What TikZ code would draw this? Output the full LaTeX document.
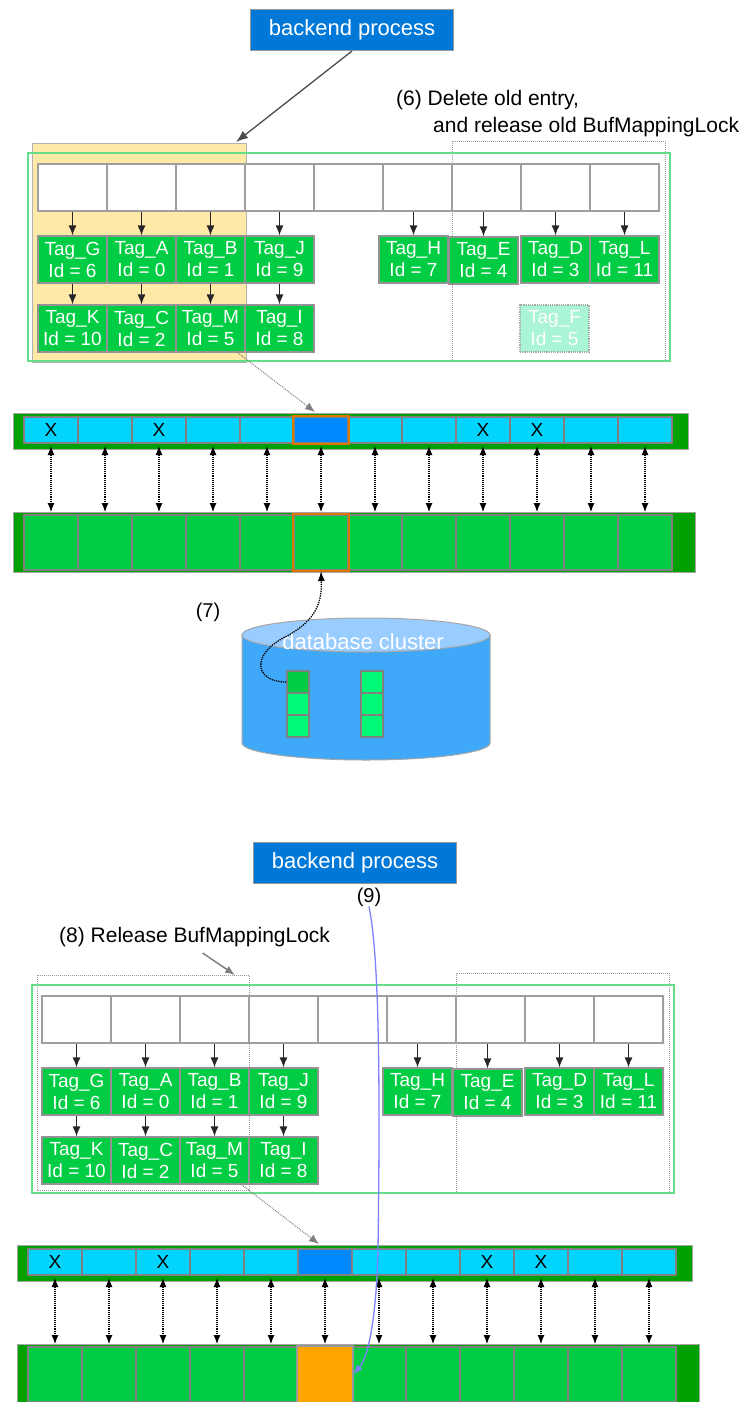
\documentclass[tikz,border=0pt]{standalone}
\usepackage{fontspec}
\setmainfont{Liberation Sans}
\usetikzlibrary{arrows.meta}

\definecolor{procblue}{RGB}{0,120,215}
\definecolor{taggreen}{RGB}{0,204,68}
\definecolor{framegreen}{RGB}{102,221,136}
\definecolor{lockyellow}{RGB}{255,233,166}
\definecolor{bardark}{RGB}{0,160,0}
\definecolor{cellcyan}{RGB}{0,212,255}
\definecolor{celldark}{RGB}{0,136,255}
\definecolor{hotorange}{RGB}{220,120,0}
\definecolor{orangefill}{RGB}{255,165,0}
\definecolor{dbbody}{RGB}{64,168,248}
\definecolor{dbtop}{RGB}{153,204,255}
\definecolor{pagedark}{RGB}{0,204,68}
\definecolor{pagelight}{RGB}{0,250,119}
\definecolor{ghostgreen}{RGB}{170,245,213}
\definecolor{swapblue}{RGB}{128,128,255}

\tikzset{
  lockbox/.style={draw=gray!80, densely dotted, line width=1pt},
  tableframe/.style={draw=framegreen, line width=2.2pt},
  slotbox/.style={draw=gray!75, line width=1.6pt, fill=white, minimum width=69pt, minimum height=47pt, inner sep=0pt},
  tagbox/.style={draw=gray!85, line width=1.2pt, fill=taggreen, text=white, minimum width=69pt, minimum height=47pt, inner sep=0pt, align=center, font=\fontsize{19}{22}\selectfont},
  ghostbox/.style={tagbox, fill=ghostgreen, draw=gray!70, densely dotted, line width=1.5pt},
  ptrarrow/.style={-{Latex[length=10pt,width=8pt]}, line width=1.2pt, draw=black!85},
  barbox/.style={fill=bardark, draw=gray!70, line width=1pt},
  desccell/.style={draw=gray, line width=2pt, minimum width=54pt, minimum height=26pt, inner sep=0pt, font=\fontsize{19}{19}\selectfont},
  poolcell/.style={draw=gray, line width=2pt, fill=taggreen, minimum width=54pt, minimum height=55pt, inner sep=0pt},
  dptr/.style={densely dotted, line width=1.1pt, {Latex[length=9pt,width=7pt]}-{Latex[length=9pt,width=7pt]}, shorten <=2pt, shorten >=2pt},
  hintarrow/.style={draw=gray, densely dotted, line width=1pt, -{Latex[length=10pt,width=8pt]}},
  hotline/.style={draw=hotorange, line width=2pt},
  proc/.style={fill=procblue, draw=gray!80, line width=1pt, text=white, minimum width=203pt, minimum height=41pt, inner sep=0pt, font=\fontsize{22}{24}\selectfont},
  note/.style={inner sep=0pt, font=\fontsize{21}{24}\selectfont},
  callarrow/.style={draw=black!70, line width=1.3pt, -{Latex[length=12pt,width=9pt]}},
  grayarrow/.style={draw=gray, line width=1.5pt, -{Latex[length=10pt,width=8pt]}},
  dbpage/.style={draw=gray, line width=1.2pt, minimum width=22pt, minimum height=22pt, inner sep=0pt},
  dbcurve/.style={densely dotted, line width=1.3pt, -{Latex[length=10pt,width=7pt]}},
  swaparrow/.style={draw=swapblue, line width=1.3pt, -{Latex[length=10pt,width=7pt]}}
}

\begin{document}
\begin{tikzpicture}[x=1pt,y=-1pt]
\clip (0,0) rectangle (744,1402);
% locked parts of the buffer table
\draw[fill=lockyellow,draw=gray!60,line width=1pt] (32,143) rectangle (246,362);
\draw[lockbox] (452,141) rectangle (665,360);
\draw[lockbox] (37,975) rectangle (249,1190);
\draw[lockbox] (456,973) rectangle (669,1192);

\foreach \s/\dx/\dy in {u/0/0,l/4/832}{
\begin{scope}[shift={(\dx,\dy)}]
  \draw[tableframe] (28,153) rectangle (670,361);
  % hash slots
  \foreach \i in {0,...,8}
    \node[slotbox] (\s-c\i) at (72.5+69*\i,187.5) {};
  % buffer tags
  \foreach \tg/\x/\y/\d in {G/72.5/259.5/6, A/141.5/259.5/0, B/210.5/259.5/1, J/279.5/259.5/9,
      H/413.5/259.5/7, E/483.5/260.5/4, D/555.5/259.5/3, L/624.5/259.5/11,
      K/72.5/328.5/10, C/141.5/328.5/2, M/210.5/328.5/5, I/279.5/328.5/8}
    \node[tagbox] (\s-t\tg) at (\x,\y) {Tag\_\tg\\Id = \d};
  \foreach \tg in {G,A,B,J,H,E,D,L}
    \draw[ptrarrow] (\s-t\tg.north |- \s-c0.south) -- (\s-t\tg.north);
  \foreach \a/\b in {G/K,A/C,B/M,J/I}
    \draw[ptrarrow] (\s-t\a.south) -- (\s-t\b.north);
  % descriptors and buffer pool
  \draw[barbox] (13,413) rectangle (688,449);
  \draw[barbox] (13,512) rectangle (695,572);
  \foreach \i/\m/\c in {0/X/cellcyan, 1//cellcyan, 2/X/cellcyan, 3//cellcyan, 4//cellcyan, 5//celldark,
      6//cellcyan, 7//cellcyan, 8/X/cellcyan, 9/X/cellcyan, 10//cellcyan, 11//cellcyan}
    \node[desccell,fill=\c] (\s-b\i) at (51+54*\i,430) {\m};
  \foreach \i in {0,...,11}{
    \node[poolcell] (\s-p\i) at (51+54*\i,542.5) {};
    \draw[dptr] (\s-b\i.south) -- (\s-p\i.north);
  }
  \draw[hintarrow] ([xshift=-8pt]\s-tM.south east) -- ([xshift=-6pt,yshift=4pt]\s-b5.north);
\end{scope}
}

% first state
\node[proc] (bp1) at (352,30) {backend process};
\coordinate (ylw) at (236,142);
\draw[callarrow] (bp1.south) -- (ylw);
\node[note,anchor=west] (l6a) at (396,100) {(6) Delete old entry,};
\node[note,anchor=west] (l6b) at (433,127) {and release old BufMappingLock};
\node[ghostbox] (u-tF) at (554.5,328.5) {Tag\_F\\Id = 5};
\draw[hotline] (u-b5.south west) rectangle (u-b5.north east);
\draw[hotline] (u-p5.south west) rectangle (u-p5.north east);

% database cluster
\draw[fill=dbbody,draw=gray!70,line width=1pt] (242,635) -- (242,743)
  arc[start angle=180,end angle=360,x radius=124pt,y radius=17pt] -- (490,635) -- cycle;
\draw[fill=dbtop,draw=gray!70,line width=1pt] (366,635) ellipse [x radius=124pt,y radius=17pt];
\node[text=white,inner sep=0pt,font=\fontsize{22}{24}\selectfont] (dbname) at (363,642) {database cluster};
\foreach \r/\c in {0/pagedark,1/pagelight,2/pagelight}{
  \node[dbpage,fill=\c] (dbL\r) at (298,682+22*\r) {};
  \node[dbpage,fill=pagelight] (dbR\r) at (372,682+22*\r) {};
}
\node[note,font=\fontsize{20}{24}\selectfont] (l7) at (208,612) {(7)};
\draw[dbcurve] (dbL0.west) .. controls (255,682) and (250,655) .. (285,637)
  .. controls (318,620) and (322,600) .. (u-p5.south);

% second state
\node[proc] (bp2) at (355,863) {backend process};
\node[note,font=\fontsize{20}{24}\selectfont] (l9) at (369,897) {(9)};
\node[note,anchor=west] (l8) at (59,937) {(8) Release BufMappingLock};
\coordinate (lk) at (235,975);
\draw[grayarrow] ([xshift=8pt,yshift=-6pt]l8.south) -- (lk);
\fill[orangefill,draw=gray!80,line width=2pt] (l-p5.south west) rectangle (l-p5.north east);
\draw[swaparrow] (l9.south) .. controls (380,960) and (380,1100) .. (378,1250)
  .. controls (376,1330) and (366,1360) .. (l-p5.east);
\end{tikzpicture}
\end{document}
